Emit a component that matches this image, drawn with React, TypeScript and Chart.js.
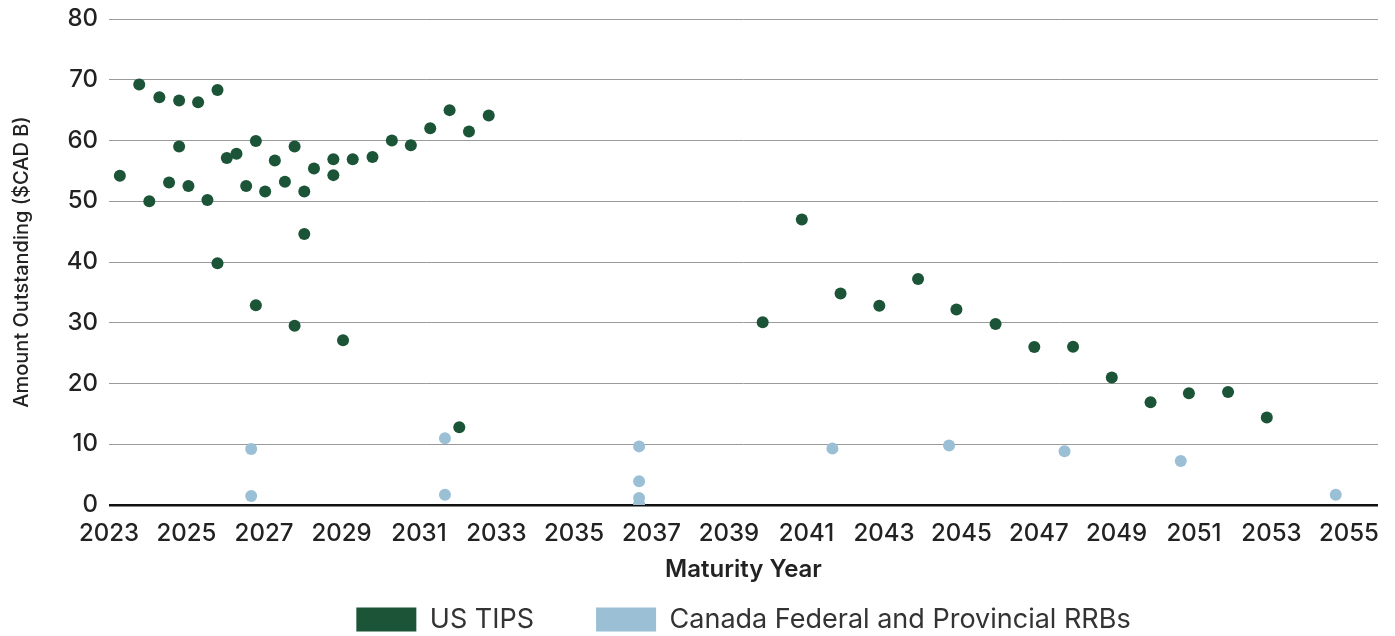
import React, { useEffect, useRef } from "react";
import { Chart, registerables } from "chart.js";

Chart.register(...registerables);

const tipsYears = [
  2023.28, 2023.78, 2024.04, 2024.3, 2024.55, 2024.81, 2024.81, 2025.05, 2025.3, 2025.54,
  2025.8, 2025.8, 2026.04, 2026.29, 2026.54, 2026.79, 2026.79, 2027.03, 2027.28, 2027.54,
  2027.79, 2027.79, 2028.04, 2028.04, 2028.29, 2028.79, 2028.79, 2029.04, 2029.29, 2029.8,
  2030.3, 2030.79, 2031.29, 2031.79, 2032.04, 2032.29, 2032.8,
  2039.87, 2040.88, 2041.88, 2042.88, 2043.88, 2044.87, 2045.88, 2046.88, 2047.88, 2048.88,
  2049.88, 2050.87, 2051.88, 2052.88,
];
const tipsAmounts = [
  54.2, 69.2, 50.0, 67.1, 53.1, 66.6, 59.0, 52.5, 66.3, 50.2,
  68.3, 39.8, 57.1, 57.8, 52.5, 59.9, 32.9, 51.6, 56.7, 53.2,
  59.0, 29.5, 51.6, 44.6, 55.4, 56.9, 54.3, 27.1, 56.9, 57.3,
  60.0, 59.2, 62.0, 65.0, 12.8, 61.5, 64.1,
  30.1, 47.0, 34.8, 32.8, 37.2, 32.2, 29.8, 26.0, 26.05, 21.0,
  16.9, 18.4, 18.6, 14.4,
];
const rrbYears = [
  2026.67, 2026.67, 2031.67, 2031.67, 2036.68, 2036.68, 2036.68, 2036.68, 2041.67, 2044.68,
  2047.66, 2050.66, 2054.66,
];
const rrbAmounts = [
  9.2, 1.5, 11.0, 1.7, 9.65, 3.9, 1.15, 0.15, 9.3, 9.8,
  8.85, 7.25, 1.7,
];
const xTickYears = [
  2023, 2025, 2027, 2029, 2031, 2033, 2035, 2037, 2039, 2041, 2043, 2045, 2047, 2049, 2051, 2053, 2055,
];
const yTickValues = [0, 10, 20, 30, 40, 50, 60, 70, 80];

const seriesNames = ["US TIPS", "Canada Federal and Provincial RRBs"];
const GREEN = "#1b5437";
const BLUE = "#9bc0d5";
const FONT = "Inter";
const LEGEND_GAP = "     ";

export default function App() {
  const ref = useRef<HTMLCanvasElement | null>(null);
  useEffect(() => {
    document.body.style.margin = "0";
    if (!ref.current) return;
    const defaultLabels = Chart.defaults.plugins.legend.labels.generateLabels;
    const chart = new Chart(ref.current, {
      type: "scatter",
      data: {
        datasets: [
          {
            label: seriesNames[0],
            data: tipsYears.map((x, i) => ({ x, y: tipsAmounts[i] })),
            backgroundColor: GREEN,
            borderColor: GREEN,
            borderWidth: 0,
            pointRadius: 6,
          },
          {
            label: seriesNames[1],
            data: rrbYears.map((x, i) => ({ x, y: rrbAmounts[i] })),
            backgroundColor: BLUE,
            borderColor: BLUE,
            borderWidth: 0,
            pointRadius: 6,
          },
        ],
      },
      options: {
        animation: false,
        responsive: true,
        maintainAspectRatio: false,
        layout: { padding: { top: 19, right: 17, left: 0, bottom: -7 } },
        plugins: {
          tooltip: { enabled: false },
          legend: {
            position: "bottom",
            fullSize: false,
            labels: {
              boxWidth: 60,
              boxHeight: 24,
              padding: 24,
              color: "#333",
              font: { family: FONT, size: 27 },
              generateLabels: (c: any) => {
                const items = defaultLabels(c);
                return items.map((it: any, i: number) =>
                  i < items.length - 1 ? { ...it, text: it.text + LEGEND_GAP } : it
                );
              },
            },
          },
        },
        scales: {
          x: {
            type: "linear",
            min: 2023,
            max: 2055.75,
            afterBuildTicks: (scale: any) => {
              scale.ticks = xTickYears.map((v) => ({ value: v }));
            },
            afterFit: (scale: any) => {
              scale.height = 77;
            },
            grid: { display: false, drawTicks: false },
            border: { display: false },
            ticks: {
              color: "#222",
              font: { family: FONT, size: 24, weight: "500" },
              maxRotation: 0,
              autoSkip: false,
              padding: 14,
              callback: (v: any) => String(v),
            },
            title: {
              display: true,
              text: "Maturity Year",
              color: "#222",
              font: { family: FONT, size: 24, weight: "600", lineHeight: 1 },
              padding: { top: 0, bottom: 0 },
            },
          },
          y: {
            min: 0,
            max: 80,
            afterBuildTicks: (scale: any) => {
              scale.ticks = yTickValues.map((v) => ({ value: v }));
            },
            afterFit: (scale: any) => {
              scale.width = 109;
              scale.paddingTop = 0;
              scale.paddingBottom = 0;
            },
            grid: {
              drawTicks: false,
              color: (ctx: any) => (ctx.tick && ctx.tick.value === 0 ? "#111" : "#9a9a9a"),
              lineWidth: (ctx: any) => (ctx.tick && ctx.tick.value === 0 ? 2.5 : 1),
            },
            border: { display: false },
            ticks: {
              color: "#222",
              font: { family: FONT, size: 24, weight: "500" },
              padding: 11,
            },
            title: {
              display: true,
              text: "Amount Outstanding ($CAD B)",
              color: "#222",
              font: { family: FONT, size: 20, weight: "500", lineHeight: 1 },
              padding: { top: 12, bottom: 0 },
            },
          },
        },
      },
    });
    return () => chart.destroy();
  }, []);
  return (
    <div style={{ width: 1395, height: 636, position: "relative" }}>
      <canvas ref={ref} />
    </div>
  );
}
